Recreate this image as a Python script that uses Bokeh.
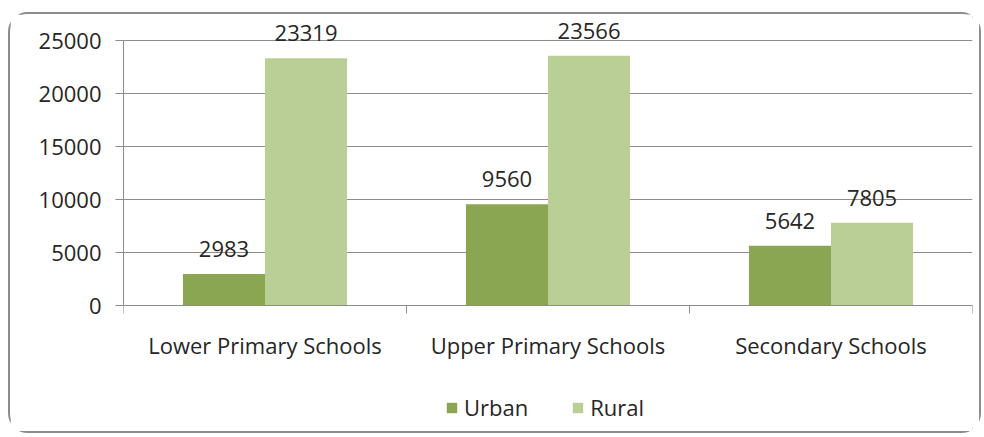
from bokeh.plotting import figure
from bokeh.models import Range1d, FixedTicker, Legend, ColumnDataSource
from bokeh.core.properties import value
from bokeh.embed import file_html
from bokeh.resources import INLINE

categories = ["Lower Primary Schools", "Upper Primary Schools", "Secondary Schools"]
urban = [2983, 9560, 5642]
rural = [23319, 23566, 7805]
y_ticks = [0, 5000, 10000, 15000, 20000, 25000]
series_names = ["Urban", "Rural"]

FONT = "Open Sans"
FS = "22px"
TXT = "#262626"
GRID = "#8c8c8c"
URBAN_C = "#8BA652"
RURAL_C = "#B9CF96"
BAR_W = 0.29

# layout (pixels inside canvas)
W, H = 973, 421
TOP_PX, ZERO_PX = 26, 291  # canvas y of top tick and zero line
units_per_px = (y_ticks[-1] - y_ticks[0]) / (ZERO_PX - TOP_PX)
y_end = y_ticks[-1] + TOP_PX * units_per_px
y_start = y_ticks[0] - (H - ZERO_PX) * units_per_px

centers = [i + 0.5 for i in range(len(categories))]
bounds = list(range(len(categories) + 1))

src_u = ColumnDataSource(dict(x=[c - BAR_W / 2 for c in centers], y=urban, lab=[str(v) for v in urban]))
src_r = ColumnDataSource(dict(x=[c + BAR_W / 2 for c in centers], y=rural, lab=[str(v) for v in rural]))

p = figure(width=W, height=H, x_range=Range1d(bounds[0], bounds[-1]), y_range=Range1d(y_start, y_end),
           output_backend="svg", toolbar_location=None,
           min_border_left=113, min_border_right=11, min_border_top=0, min_border_bottom=0)
p.styles = {"border": "2px solid #8c8c8c", "border-radius": "20px",
            "margin-left": "8px", "margin-top": "12px"}
p.outline_line_color = None
p.background_fill_color = "white"
p.border_fill_color = "white"

r1 = p.vbar(x="x", top="y", bottom=0, width=BAR_W, source=src_u, fill_color=URBAN_C, line_color=None)
r2 = p.vbar(x="x", top="y", bottom=0, width=BAR_W, source=src_r, fill_color=RURAL_C, line_color=None)

for src in (src_u, src_r):
    p.text(x="x", y="y", text="lab", source=src, text_align="center", text_baseline="bottom",
           y_offset=-17, text_font=value(FONT), text_font_size=FS, text_color=TXT)

# x axis, drawn at y = 0
xa = p.xaxis[0]
xa.fixed_location = 0
xa.ticker = FixedTicker(ticks=centers, minor_ticks=bounds)
xa.major_label_overrides = {c: name for c, name in zip(centers, categories)}
xa.major_tick_line_color = None
xa.major_tick_out = 0
xa.major_tick_in = 0
xa.minor_tick_out = 8
xa.minor_tick_in = 0
xa.minor_tick_line_color = GRID
xa.axis_line_color = GRID
xa.major_label_standoff = 16

# y axis
ya = p.yaxis[0]
ya.ticker = FixedTicker(ticks=y_ticks)
ya.bounds = (y_ticks[0], y_ticks[-1])
ya.major_tick_out = 8
ya.major_tick_in = 0
ya.major_tick_line_color = GRID
ya.minor_tick_line_color = None
ya.axis_line_color = GRID
ya.major_label_standoff = 14

for ax in (xa, ya):
    ax.major_label_text_font = FONT
    ax.major_label_text_font_size = FS
    ax.major_label_text_color = TXT

p.xgrid.grid_line_color = None
p.ygrid.ticker = FixedTicker(ticks=y_ticks)
p.ygrid.grid_line_color = GRID

legend = Legend(items=[(series_names[0], [r1]), (series_names[1], [r2])], orientation="horizontal",
                location=(322, 13), border_line_color=None, background_fill_alpha=0,
                glyph_width=13, glyph_height=13, label_standoff=6, spacing=43, padding=0, margin=0,
                label_text_font=FONT, label_text_font_size=FS, label_text_color=TXT)
p.add_layout(legend, "center")

open("out.html", "w").write(file_html(p, INLINE))
